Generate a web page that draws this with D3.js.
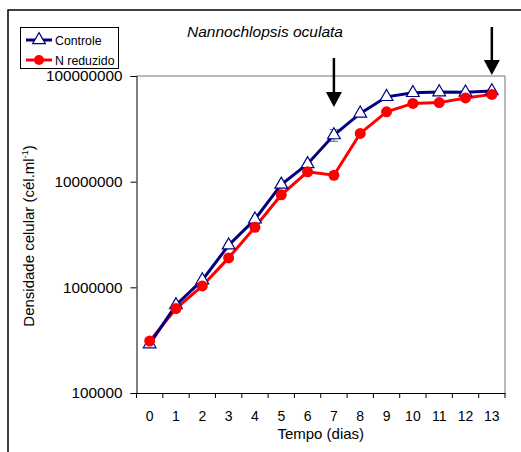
<!DOCTYPE html>
<html><head><meta charset="utf-8">
<script src="https://cdn.jsdelivr.net/npm/d3@7"></script>
<style>body{margin:0;background:#fff}svg{display:block;font-family:Arial,"Liberation Sans",sans-serif}</style>
</head><body><svg id="c" width="521" height="452"></svg>
<script>
const days = [0,1,2,3,4,5,6,7,8,9,10,11,12,13];
const controle = [2.9e5,6.8e5,1.17e6,2.5e6,4.4e6,9.4e6,1.47e7,2.76e7,4.43e7,6.35e7,6.93e7,7.04e7,7.0e7,7.2e7];
const controleErr = [0,0,0,0,0,0,0,3.5e6,0,0,0,0,3e6,3e6];
const nReduzido = [3.1e5,6.3e5,1.03e6,1.9e6,3.7e6,7.5e6,1.24e7,1.15e7,2.86e7,4.58e7,5.5e7,5.6e7,6.2e7,6.7e7];
const yTicks = [1e5,1e6,1e7,1e8];
const arrowDays = [7,13];
const title = "Nannochlopsis oculata";

const svg = d3.select("#c");
const L=136.5, R=505, T=76, B=393;
const x = d3.scaleBand().domain(days).range([L,R]);
const y = d3.scaleLog().domain([1e5,1e8]).range([B,T]);

// outer frame
svg.append("path").attr("d","M8,452V10H521").attr("fill","none").attr("stroke","#000").attr("stroke-width",1.5);

// plot frame top/right
svg.append("path").attr("d",`M${L},${T}H${R}V${B}`).attr("fill","none").attr("stroke","#777").attr("stroke-width",1);

// axes
const ya = svg.append("g").attr("transform",`translate(${L},0)`)
  .call(d3.axisLeft(y).tickValues(yTicks).tickFormat(d3.format("d")).tickSizeOuter(0).tickSize(6).tickPadding(8));
ya.selectAll(".tick text").attr("font-size",15.3);
const xa = svg.append("g").attr("transform",`translate(0,${B})`)
  .call(d3.axisBottom(x).tickSize(0).tickPadding(18).tickSizeOuter(0));
xa.selectAll(".tick text").attr("font-size",14);
svg.selectAll(".domain").attr("stroke","#000");
svg.selectAll(".tick text").attr("font-family","Arial,'Liberation Sans',sans-serif").attr("fill","#000");
// x tick marks at band boundaries
const bounds = days.map(d=>x(d)).concat([R]);
svg.append("g").selectAll("line").data(bounds).join("line")
  .attr("x1",d=>d).attr("x2",d=>d).attr("y1",B).attr("y2",B+5).attr("stroke","#000");

// axis titles
svg.append("text").attr("x",(L+R)/2).attr("y",439).attr("text-anchor","middle").attr("font-size",15).text("Tempo (dias)");
const yt = svg.append("text").attr("transform","translate(34,236) rotate(-90)").attr("text-anchor","middle").attr("font-size",15);
yt.append("tspan").text("Densidade celular (cél.ml");
yt.append("tspan").attr("dy",-6).attr("font-size",9).text("-1");
yt.append("tspan").attr("dy",6).text(")");

// title
svg.append("text").attr("x",265).attr("y",37).attr("text-anchor","middle").attr("font-size",15.5).attr("font-style","italic").text(title);

const cx = d=>x(d)+x.bandwidth()/2;

// error bars
const eb = svg.append("g").attr("stroke","#666").attr("stroke-width",1);
days.forEach((d,i)=>{ if(controleErr[i]>0){
  const y1=y(controle[i]-controleErr[i]), y2=y(controle[i]+controleErr[i]);
  eb.append("line").attr("x1",cx(d)).attr("x2",cx(d)).attr("y1",y1).attr("y2",y2);
  eb.append("line").attr("x1",cx(d)-4).attr("x2",cx(d)+4).attr("y1",y1).attr("y2",y1);
  eb.append("line").attr("x1",cx(d)-4).attr("x2",cx(d)+4).attr("y1",y2).attr("y2",y2);
}});

const line = d3.line().x((v,i)=>cx(days[i])).y(v=>y(v));
svg.append("path").datum(nReduzido).attr("d",line).attr("fill","none").attr("stroke","#ff0000").attr("stroke-width",3);
svg.append("path").datum(controle).attr("d",line).attr("fill","none").attr("stroke","#000080").attr("stroke-width",3);

const tri = d3.symbol().type(d3.symbolTriangle).size(70);
svg.append("g").selectAll("path").data(controle).join("path")
  .attr("d",tri).attr("transform",(v,i)=>`translate(${cx(days[i])},${y(v)})`)
  .attr("fill","#fff").attr("stroke","#000080").attr("stroke-width",1.2);
svg.append("g").selectAll("circle").data(nReduzido).join("circle")
  .attr("cx",(v,i)=>cx(days[i])).attr("cy",v=>y(v)).attr("r",5.5).attr("fill","#ff0000");

// arrows
const arrowTop = {7:58, 13:27};
const arrowTip = {7:107, 13:75};
arrowDays.forEach(d=>{
  const ax=cx(d), t=arrowTop[d], b=arrowTip[d];
  svg.append("line").attr("x1",ax).attr("x2",ax).attr("y1",t).attr("y2",b-12).attr("stroke","#000").attr("stroke-width",2.5);
  svg.append("path").attr("d",`M${ax-8},${b-15}L${ax+8},${b-15}L${ax},${b}Z`).attr("fill","#000");
});

// legend
const lg = svg.append("g");
lg.append("rect").attr("x",20.5).attr("y",27.5).attr("width",98).attr("height",41).attr("fill","#fff").attr("stroke","#000").attr("stroke-width",1);
lg.append("line").attr("x1",26).attr("x2",52).attr("y1",40).attr("y2",40).attr("stroke","#000080").attr("stroke-width",3);
lg.append("path").attr("d",tri).attr("transform","translate(39,40)").attr("fill","#fff").attr("stroke","#000080").attr("stroke-width",1.2);
lg.append("text").attr("x",55).attr("y",44.5).attr("font-size",12.3).text("Controle");
lg.append("line").attr("x1",26).attr("x2",52).attr("y1",60).attr("y2",60).attr("stroke","#ff0000").attr("stroke-width",3);
lg.append("circle").attr("cx",39).attr("cy",60).attr("r",5).attr("fill","#ff0000");
lg.append("text").attr("x",55).attr("y",64.5).attr("font-size",12.3).text("N reduzido");
</script></body></html>
